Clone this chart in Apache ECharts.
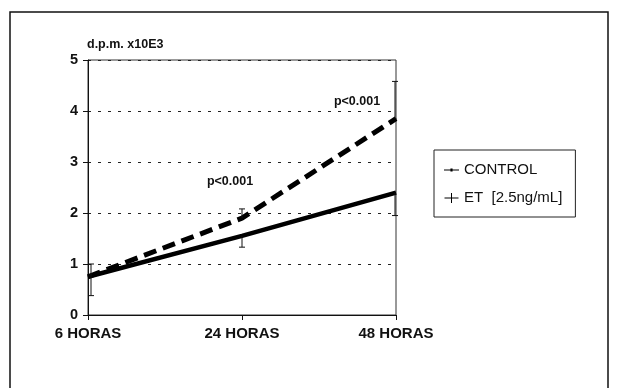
<!DOCTYPE html>
<html><head><meta charset="utf-8">
<script src="https://cdn.jsdelivr.net/npm/echarts@6/dist/echarts.min.js"></script>
<style>html,body{margin:0;padding:0;background:#fff}#c{width:620px;height:388px}</style>
</head><body><div id="c"></div>
<script>
var categories = ['6 HORAS', '24 HORAS', '48 HORAS'];
var controlValues = [0.75, 1.55, 2.4];
var etValues = [0.75, 1.9, 3.85];
var controlErrLow = [0.38, 1.33, 1.95];
var etErrHigh = [1.0, 2.08, 4.58];
var yTicks = [0, 1, 2, 3, 4, 5];
var pLabel = 'p<0.001';

var F = '"Liberation Sans", Arial, sans-serif';
var chart = echarts.init(document.getElementById('c'), null, {renderer: 'canvas'});

var errData = [];
for (var i = 0; i < categories.length; i++) {
  errData.push([i, etValues[i], etErrHigh[i]]);
  errData.push([i, controlValues[i], controlErrLow[i]]);
}

function renderErr(params, api) {
  var x = api.value(0);
  var p1 = api.coord([x, api.value(1)]);
  var p2 = api.coord([x, api.value(2)]);
  var dx = x === 0 ? 3 : (x === 2 ? -1 : 0);
  var cap = 3;
  var st = {stroke: '#111', lineWidth: 1};
  return {type: 'group', children: [
    {type: 'line', shape: {x1: p1[0] + dx, y1: p1[1], x2: p2[0] + dx, y2: p2[1]}, style: st},
    {type: 'line', shape: {x1: p2[0] + dx - cap, y1: p2[1], x2: p2[0] + dx + cap, y2: p2[1]}, style: st}
  ]};
}

var etData = etValues.map(function (v, i) {
  var d = {value: v};
  if (i === 1) d.label = {show: true, formatter: pLabel, position: 'top', offset: [-12, -25]};
  if (i === 2) d.label = {show: true, formatter: pLabel, position: 'top', offset: [-39, -5]};
  return d;
});

chart.setOption({
  animation: false,
  backgroundColor: '#fff',
  textStyle: {fontFamily: F},
  title: {text: 'd.p.m. x10E3', left: 87, top: 38, padding: 0,
    textStyle: {fontFamily: F, fontSize: 12.5, fontWeight: 'bold', color: '#111'}},
  graphic: [{type: 'rect', shape: {x: 10, y: 12, width: 598, height: 420},
    style: {fill: 'none', stroke: '#111', lineWidth: 1.5}, silent: true, z: -1}],
  legend: {
    orient: 'vertical', left: 434, top: 150,
    borderColor: '#222', borderWidth: 1, padding: [12, 13, 11, 10],
    itemWidth: 15, itemHeight: 10, itemGap: 12,
    textStyle: {fontFamily: F, fontSize: 15, color: '#111', lineHeight: 16},
    data: [
      {name: 'CONTROL', icon: 'path://M0,4.5h14v1h-14z M6,3.5h2v3h-2z'},
      {name: 'ET  [2.5ng/mL]', icon: 'path://M0,4.5h14v1h-14z M6.5,0h1v10h-1z'}
    ]
  },
  grid: {left: 88, right: 224, top: 60, bottom: 73, show: true,
    borderColor: '#333', borderWidth: 1, backgroundColor: 'transparent'},
  xAxis: {
    type: 'category', data: categories, boundaryGap: false,
    axisLine: {lineStyle: {color: '#111', width: 1}},
    axisTick: {show: true, length: 5, lineStyle: {color: '#111'}},
    axisLabel: {fontFamily: F, fontSize: 15, fontWeight: 'bold', color: '#111', margin: 11}
  },
  yAxis: {
    type: 'value', min: yTicks[0], max: yTicks[yTicks.length - 1], interval: 1,
    axisLine: {show: true, lineStyle: {color: '#111', width: 1}},
    axisTick: {show: true, length: 5, lineStyle: {color: '#111'}},
    axisLabel: {fontFamily: F, fontSize: 14.5, fontWeight: 'bold', color: '#111', margin: 10},
    splitLine: {show: true, lineStyle: {color: '#222', width: 1, type: [3, 7]}}
  },
  series: [
    {name: 'CONTROL', type: 'line', data: controlValues, symbol: 'none',
      lineStyle: {color: '#000', width: 4.5}, itemStyle: {color: '#000'}, z: 3},
    {name: 'ET  [2.5ng/mL]', type: 'line', data: etData, symbol: 'circle', symbolSize: 1, showSymbol: true,
      lineStyle: {color: '#000', width: 5, type: [13, 7]}, itemStyle: {color: '#000'},
      label: {fontFamily: F, fontSize: 12.5, fontWeight: 'bold', color: '#111'}, z: 3},
    {name: 'err', type: 'custom', data: errData, renderItem: renderErr, z: 4, silent: true}
  ]
});
</script>
</body></html>
